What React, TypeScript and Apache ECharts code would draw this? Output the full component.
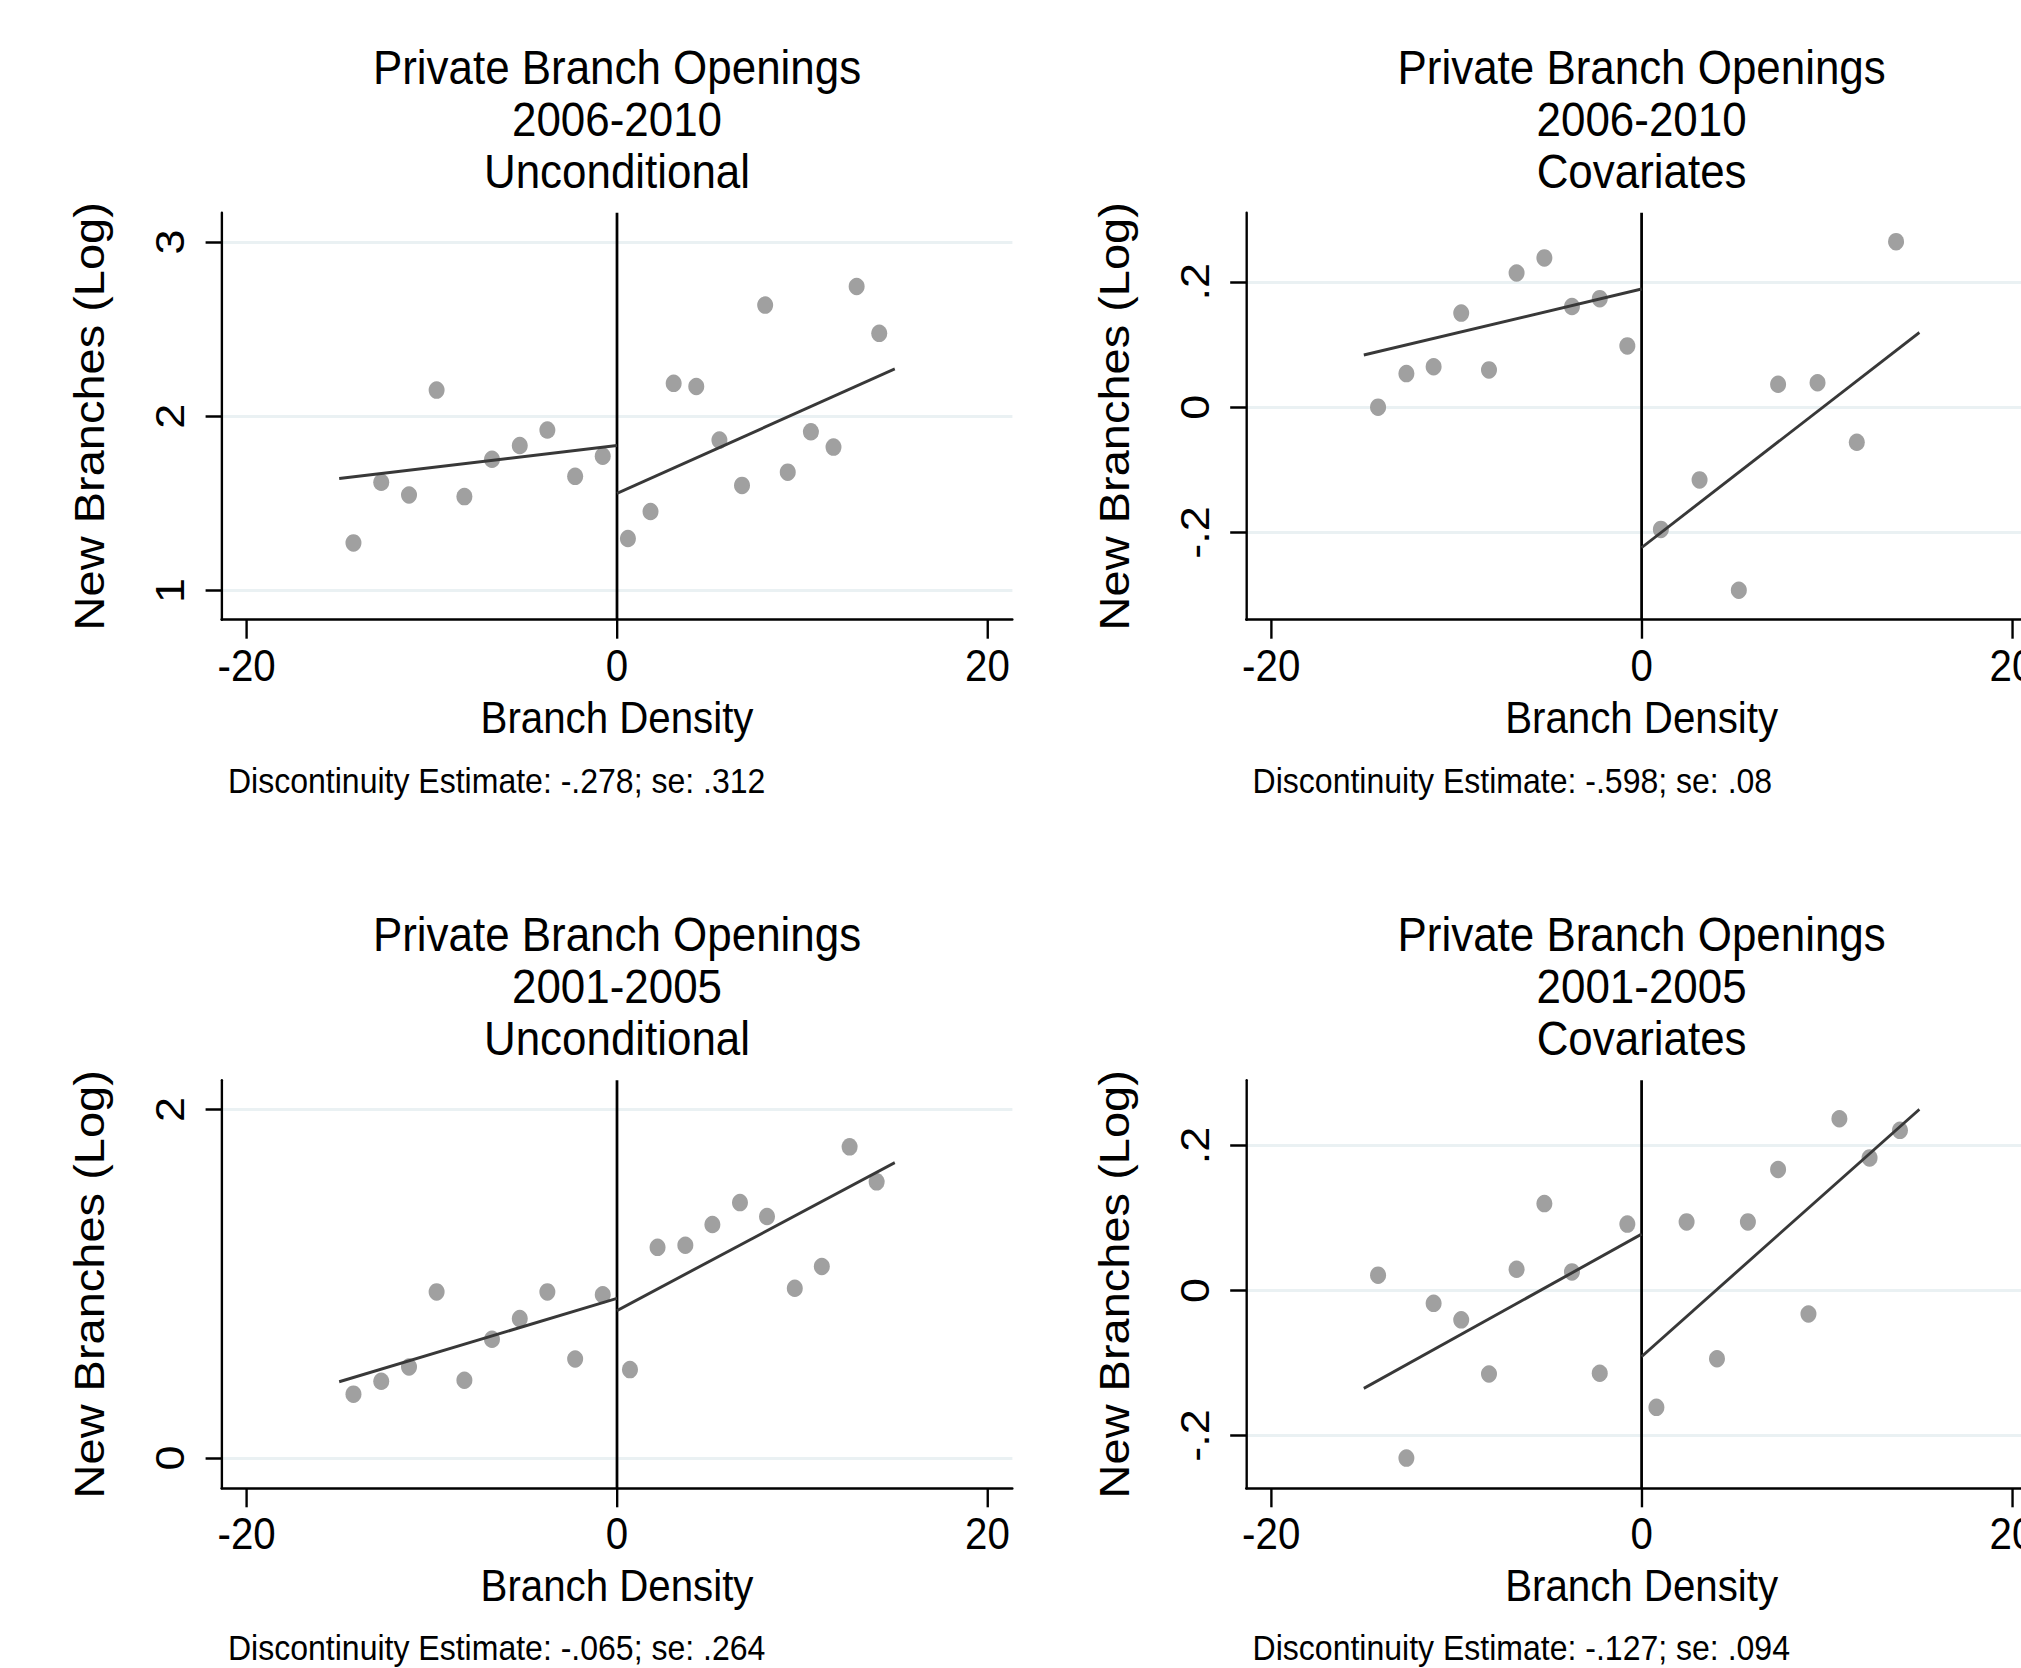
import React, { useEffect, useRef } from "react";
import * as echarts from "echarts";

// The reference image is squeezed horizontally; reproduce it with a CSS scaleX.
const K = 0.915;
const FULL_W = 2021;
const FULL_H = 1668;
const INNER_W = 2400; // wider than the visible area so the right-hand grids are not clamped
const FONT = '"Liberation Sans", Arial, Helvetica, sans-serif';

// ---------- data ----------
const xTicks = [-20, 0, 20];
const xRange = [-21.35, 21.35];

const titles = [
  "Private Branch Openings\n2006-2010\nUnconditional",
  "Private Branch Openings\n2006-2010\nCovariates",
  "Private Branch Openings\n2001-2005\nUnconditional",
  "Private Branch Openings\n2001-2005\nCovariates",
];
const notes = [
  "Discontinuity Estimate: -.278; se: .312",
  "Discontinuity Estimate: -.598; se: .08",
  "Discontinuity Estimate: -.065; se: .264",
  "Discontinuity Estimate: -.127; se: .094",
];

// Panel 1: 2006-2010 Unconditional
const leftX1 = [-14.23, -12.73, -11.23, -9.74, -8.24, -6.75, -5.25, -3.76, -2.26, -0.77];
const leftY1 = [1.273, 1.621, 1.548, 2.15, 1.539, 1.753, 1.832, 1.921, 1.655, 1.771];
const rightX1 = [0.59, 1.81, 3.06, 4.28, 5.53, 6.75, 8.0, 9.22, 10.47, 11.69, 12.94, 14.16];
const rightY1 = [1.298, 1.453, 2.189, 2.171, 1.863, 1.603, 2.638, 1.679, 1.911, 1.823, 2.745, 2.476];
const fitLeft1 = [[-15, 1.643], [0, 1.832]];
const fitRight1 = [[0, 1.557], [15, 2.272]];
const yTicks1 = [1, 2, 3];
const yRange1 = [0.832, 3.168];

// Panel 2: 2006-2010 Covariates
const leftX2 = [-14.23, -12.7, -11.23, -9.74, -8.24, -6.75, -5.25, -3.76, -2.26, -0.77];
const leftY2 = [0.0, 0.0535, 0.0645, 0.15, 0.0594, 0.214, 0.238, 0.1605, 0.173, 0.0977];
const rightX2 = [1.04, 3.13, 5.25, 7.37, 9.5, 11.62, 13.74];
const rightY2 = [-0.195, -0.116, -0.292, 0.0365, 0.039, -0.056, 0.264];
const fitLeft2 = [[-15, 0.0832], [0, 0.1885]];
const fitRight2 = [[0, -0.224], [15, 0.119]];
const yTicks2 = [-0.2, 0, 0.2];
const yRange2 = [-0.339, 0.31];

// Panel 3: 2001-2005 Unconditional
const leftX3 = [-14.23, -12.73, -11.23, -9.74, -8.24, -6.75, -5.25, -3.76, -2.26, -0.77];
const leftY3 = [0.366, 0.44, 0.522, 0.953, 0.446, 0.681, 0.8, 0.953, 0.568, 0.937];
const rightX3 = [0.7, 2.19, 3.69, 5.15, 6.64, 8.1, 9.6, 11.06, 12.56, 14.02];
const rightY3 = [0.507, 1.209, 1.221, 1.34, 1.466, 1.386, 0.974, 1.099, 1.786, 1.585];
const fitLeft3 = [[-15, 0.437], [0, 0.916]];
const fitRight3 = [[0, 0.846], [15, 1.695]];
const yTicks3 = [0, 2];
const yRange3 = [-0.1745, 2.168];

// Panel 4: 2001-2005 Covariates
const leftX4 = [-14.23, -12.7, -11.23, -9.74, -8.24, -6.75, -5.25, -3.76, -2.26, -0.77];
const leftY4 = [0.0213, -0.231, -0.0176, -0.0404, -0.115, 0.0294, 0.12, 0.0257, -0.114, 0.0917];
const rightX4 = [0.8, 2.43, 4.07, 5.74, 7.37, 9.01, 10.68, 12.31, 13.95];
const rightY4 = [-0.161, 0.0947, -0.094, 0.0947, 0.167, -0.0323, 0.237, 0.183, 0.221];
const fitLeft4 = [[-15, -0.135], [0, 0.0778]];
const fitRight4 = [[0, -0.091], [15, 0.25]];
const yTicks4 = [-0.2, 0, 0.2];
const yRange4 = [-0.2727, 0.29];

const panels = [
  { lx: leftX1, ly: leftY1, rx: rightX1, ry: rightY1, fl: fitLeft1, fr: fitRight1, yt: yTicks1, yr: yRange1 },
  { lx: leftX2, ly: leftY2, rx: rightX2, ry: rightY2, fl: fitLeft2, fr: fitRight2, yt: yTicks2, yr: yRange2 },
  { lx: leftX3, ly: leftY3, rx: rightX3, ry: rightY3, fl: fitLeft3, fr: fitRight3, yt: yTicks3, yr: yRange3 },
  { lx: leftX4, ly: leftY4, rx: rightX4, ry: rightY4, fl: fitLeft4, fr: fitRight4, yt: yTicks4, yr: yRange4 },
];

// ---------- layout (measured in full-size pixels, converted to pre-squeeze x) ----------
const colLeft = [221.6 / K, 1246.2 / K];
const plotW = 790.8 / K;
const rowTop = [212.8, 1080.3];
const rowH = [406.9, 408];
const titleMidY = [119.5, 986.5];
const noteY = [781, 1648];

function fmtY(v: number): string {
  if (v === 0) return "0";
  const s = String(Math.round(v * 1000) / 1000);
  return s.replace(/^(-?)0\./, "$1.");
}

function buildOption() {
  const grid: any[] = [];
  const xAxis: any[] = [];
  const yAxis: any[] = [];
  const series: any[] = [];
  const graphic: any[] = [];

  panels.forEach((p, i) => {
    const col = i % 2;
    const row = Math.floor(i / 2);
    const left = colLeft[col];
    const top = rowTop[row];
    grid.push({ left, top, width: plotW, height: rowH[row], containLabel: false });

    xAxis.push({
      gridIndex: i,
      type: "value",
      min: xRange[0],
      max: xRange[1],
      axisLine: { show: true, onZero: false, lineStyle: { color: "#000", width: 2.5 } },
      axisTick: { show: true, length: 19, customValues: xTicks, lineStyle: { color: "#000", width: 2.6 } },
      axisLabel: { customValues: xTicks, fontSize: 44, fontFamily: FONT, color: "#000", margin: 24 },
      splitLine: { show: false },
      name: "Branch Density",
      nameLocation: "middle",
      nameGap: 76,
      nameTextStyle: { fontSize: 44, fontFamily: FONT, color: "#000" },
    });

    yAxis.push({
      gridIndex: i,
      type: "value",
      min: p.yr[0],
      max: p.yr[1],
      axisLine: { show: true, onZero: false, lineStyle: { color: "#000", width: 2.6 } },
      axisTick: { show: true, length: 17.5, customValues: p.yt, lineStyle: { color: "#000", width: 2.5 } },
      axisLabel: {
        customValues: p.yt,
        rotate: 90,
        fontSize: 45,
        fontFamily: FONT,
        color: "#000",
        margin: 34,
        formatter: (v: number) => fmtY(v),
      },
      splitLine: { show: true, lineStyle: { color: "#eaf1f3", width: 3 } },
      name: "New Branches (Log)",
      nameLocation: "middle",
      nameGap: 121,
      nameTextStyle: { fontSize: 47, fontFamily: FONT, color: "#000" },
    });

    const pts: number[][] = [];
    p.lx.forEach((x, j) => pts.push([x, p.ly[j]]));
    p.rx.forEach((x, j) => pts.push([x, p.ry[j]]));

    series.push({
      type: "line",
      xAxisIndex: i,
      yAxisIndex: i,
      data: [[0, p.yr[0]], [0, p.yr[1]]],
      showSymbol: false,
      lineStyle: { color: "#000", width: 3 },
      z: 2,
      silent: true,
    });
    series.push({
      type: "scatter",
      xAxisIndex: i,
      yAxisIndex: i,
      data: pts,
      symbol: "circle",
      symbolSize: 17.5,
      itemStyle: { color: "#a0a0a0", opacity: 1 },
      z: 3,
    });
    [p.fl, p.fr].forEach((seg) => {
      series.push({
        type: "line",
        xAxisIndex: i,
        yAxisIndex: i,
        data: seg,
        showSymbol: false,
        lineStyle: { color: "#383838", width: 3 },
        z: 4,
        silent: true,
      });
    });

    graphic.push({
      type: "text",
      x: left + plotW / 2,
      y: titleMidY[row],
      style: {
        text: titles[i],
        fontSize: 48,
        fontFamily: FONT,
        fill: "#000",
        textAlign: "center",
        textVerticalAlign: "middle",
        align: "center",
        verticalAlign: "middle",
        lineHeight: 51.7,
      },
    });
    graphic.push({
      type: "text",
      x: left + 6.4 / K,
      y: noteY[row],
      style: {
        text: notes[i],
        fontSize: 35,
        fontFamily: FONT,
        fill: "#000",
        textAlign: "left",
        textVerticalAlign: "middle",
        align: "left",
        verticalAlign: "middle",
      },
    });
  });

  return {
    animation: false,
    backgroundColor: "#fff",
    grid,
    xAxis,
    yAxis,
    series,
    graphic,
  };
}

export default function App() {
  const ref = useRef<HTMLDivElement>(null);
  useEffect(() => {
    if (!ref.current) return;
    const chart = echarts.init(ref.current, null, { renderer: "svg" });
    chart.setOption(buildOption() as any);
    return () => chart.dispose();
  }, []);
  return (
    <div
      style={{
        position: "fixed",
        left: 0,
        top: 0,
        width: FULL_W,
        height: FULL_H,
        overflow: "hidden",
        background: "#fff",
      }}
    >
      <div
        ref={ref}
        style={{
          width: INNER_W,
          height: FULL_H,
          transform: `scaleX(${K})`,
          transformOrigin: "0 0",
        }}
      />
    </div>
  );
}
